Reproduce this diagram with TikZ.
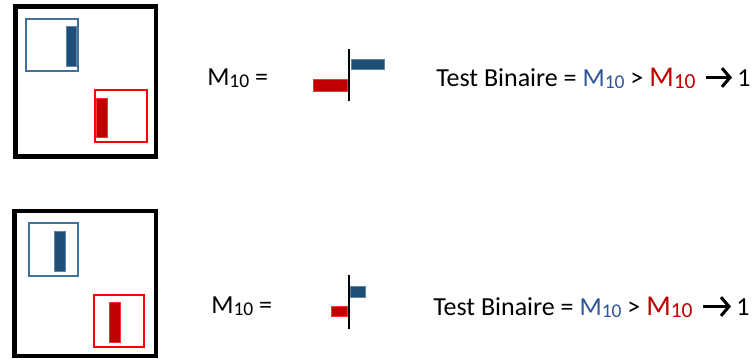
\documentclass[tikz,border=0pt]{standalone}
\usepackage{fontspec}
\setmainfont{Carlito}
\usetikzlibrary{arrows.meta,calc}
\definecolor{barblue}{HTML}{1F4E79}
\definecolor{lineblue}{HTML}{41719C}
\definecolor{txtblue}{HTML}{2E5597}
\definecolor{barred}{HTML}{C00000}
\definecolor{linered}{HTML}{FF0000}
\newcommand{\Msub}{M\raisebox{-0.1em}{\scalebox{0.75}{10}}}
\tikzset{
  frame/.style={draw=black,line width=3.4pt},
  bluebox/.style={draw=lineblue,line width=0.8pt},
  redbox/.style={draw=linered,line width=0.8pt},
  bluebar/.style={fill=barblue,draw=barblue!70,line width=0.5pt},
  redbar/.style={fill=barred,draw=linered!80,line width=0.5pt},
  axis/.style={draw=black,line width=1.5pt},
  eqtext/.style={anchor=base west,inner sep=0pt,font=\fontsize{19.5}{24}\selectfont},
  testtext/.style={anchor=base west,inner sep=0pt,font=\fontsize{19.5}{24}\selectfont},
  bigarr/.style={line width=2.3pt,-{Straight Barb[length=6pt,width=14pt,line width=2.3pt]}},
}
\newcommand{\testline}{Test Binaire = \textcolor{txtblue}{\Msub} > \textcolor{barred}{\fontsize{21.5}{24}\selectfont\Msub}}
\begin{document}
\begin{tikzpicture}[x=0.75pt,y=-0.75pt]
\useasboundingbox (0,0) rectangle (755,360);
% ---- top row ----
\draw[frame] (15.5,6.5) rectangle (156,156.5);
\draw[bluebox] (26,19) rectangle (78,71);
\draw[bluebar] (66,26) rectangle (76,66);
\draw[redbox] (95,90) rectangle (147,142);
\draw[redbar] (96,98) rectangle (107,137);
\node[eqtext] (eq1) at (207,85) {\Msub\ =};
\coordinate (a1t) at (349,49);
\coordinate (a1b) at (349,101);
\draw[axis] (a1t) -- (a1b);
\draw[bluebar] (351,59) rectangle (384,69);
\draw[redbar] (313,79) rectangle (347,91);
\node[testtext] (t1) at (436,86) {\testline};
\node[testtext] (one1) at (737,86) {1};
\draw[bigarr] ($(t1.base east)+(10,-8.5)$) -- ($(one1.base west)+(-5,-8.5)$);
% ---- bottom row ----
\draw[frame] (14.5,211) rectangle (156,356);
\draw[bluebox] (29,223) rectangle (78,276);
\draw[bluebar] (54,231) rectangle (65,271);
\draw[redbox] (94,295) rectangle (144,347);
\draw[redbar] (109,302) rectangle (120,342);
\node[eqtext] (eq2) at (211,313) {\Msub\ =};
\coordinate (a2t) at (349,275);
\coordinate (a2b) at (349,329);
\draw[axis] (a2t) -- (a2b);
\draw[bluebar] (350,286) rectangle (365,297);
\draw[redbar] (331,306) rectangle (347,316);
\node[testtext] (t2) at (433,315) {\testline};
\node[testtext] (one2) at (736,315) {1};
\draw[bigarr] ($(t2.base east)+(10,-8.5)$) -- ($(one2.base west)+(-5,-8.5)$);
\end{tikzpicture}
\end{document}
